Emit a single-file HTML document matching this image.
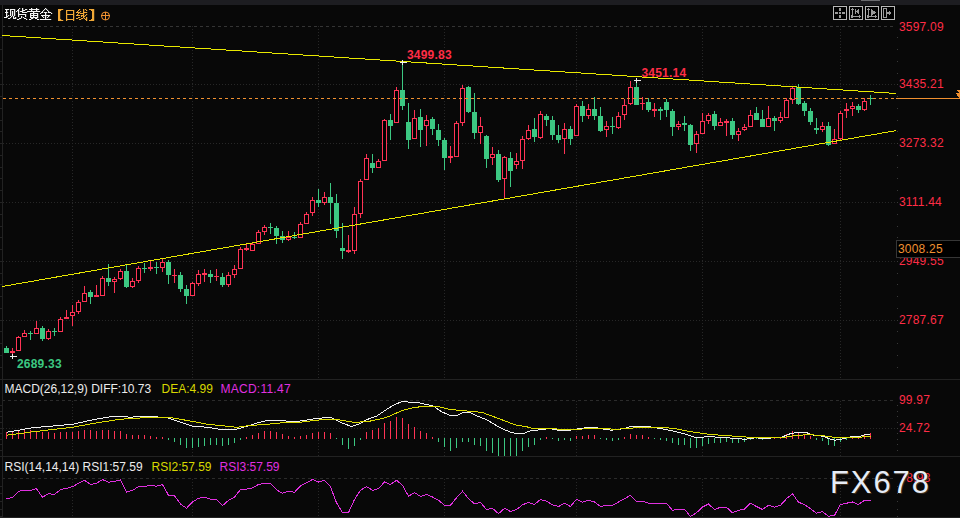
<!DOCTYPE html>
<html><head><meta charset="utf-8"><title>chart</title>
<style>
html,body{margin:0;padding:0;background:#080808;}
body{width:960px;height:518px;position:relative;overflow:hidden;font-family:"Liberation Sans",sans-serif;}
.t{position:absolute;white-space:nowrap;line-height:normal;font-family:"Liberation Sans",sans-serif;}
</style></head><body>
<svg width="960" height="518" viewBox="0 0 960 518" shape-rendering="crispEdges" style="position:absolute;left:0;top:0">
<path d="M2 5h1v513h-1zM0 379h960v1h-960zM0 456h960v1h-960zM0 517h960v1h-960z" fill="#222222"/>
<line x1="3" y1="26.5" x2="893" y2="26.5" stroke="#343434" stroke-dasharray="3 3" stroke-dashoffset="1"/>
<line x1="3" y1="400.5" x2="893" y2="400.5" stroke="#2b2b2b" stroke-dasharray="3 3" stroke-dashoffset="1"/>
<line x1="3" y1="478.5" x2="893" y2="478.5" stroke="#2b2b2b" stroke-dasharray="3 3" stroke-dashoffset="1"/>
<line x1="3" y1="84.5" x2="897" y2="84.5" stroke="#272727" stroke-dasharray="1 2"/>
<line x1="3" y1="143.5" x2="897" y2="143.5" stroke="#272727" stroke-dasharray="1 2"/>
<line x1="3" y1="202.5" x2="897" y2="202.5" stroke="#272727" stroke-dasharray="1 2"/>
<line x1="3" y1="261.5" x2="897" y2="261.5" stroke="#272727" stroke-dasharray="1 2"/>
<line x1="3" y1="320.5" x2="897" y2="320.5" stroke="#272727" stroke-dasharray="1 2"/>
<line x1="3" y1="428.5" x2="897" y2="428.5" stroke="#272727" stroke-dasharray="1 2"/>
<line x1="72.5" y1="26" x2="72.5" y2="379" stroke="#272727" stroke-dasharray="1 2"/>
<line x1="72.5" y1="401" x2="72.5" y2="456" stroke="#272727" stroke-dasharray="1 2"/>
<line x1="72.5" y1="479" x2="72.5" y2="517" stroke="#272727" stroke-dasharray="1 2"/>
<line x1="192.5" y1="26" x2="192.5" y2="379" stroke="#272727" stroke-dasharray="1 2"/>
<line x1="192.5" y1="401" x2="192.5" y2="456" stroke="#272727" stroke-dasharray="1 2"/>
<line x1="192.5" y1="479" x2="192.5" y2="517" stroke="#272727" stroke-dasharray="1 2"/>
<line x1="318.5" y1="26" x2="318.5" y2="379" stroke="#272727" stroke-dasharray="1 2"/>
<line x1="318.5" y1="401" x2="318.5" y2="456" stroke="#272727" stroke-dasharray="1 2"/>
<line x1="318.5" y1="479" x2="318.5" y2="517" stroke="#272727" stroke-dasharray="1 2"/>
<line x1="444.5" y1="26" x2="444.5" y2="379" stroke="#272727" stroke-dasharray="1 2"/>
<line x1="444.5" y1="401" x2="444.5" y2="456" stroke="#272727" stroke-dasharray="1 2"/>
<line x1="444.5" y1="479" x2="444.5" y2="517" stroke="#272727" stroke-dasharray="1 2"/>
<line x1="576.5" y1="26" x2="576.5" y2="379" stroke="#272727" stroke-dasharray="1 2"/>
<line x1="576.5" y1="401" x2="576.5" y2="456" stroke="#272727" stroke-dasharray="1 2"/>
<line x1="576.5" y1="479" x2="576.5" y2="517" stroke="#272727" stroke-dasharray="1 2"/>
<line x1="702.5" y1="26" x2="702.5" y2="379" stroke="#272727" stroke-dasharray="1 2"/>
<line x1="702.5" y1="401" x2="702.5" y2="456" stroke="#272727" stroke-dasharray="1 2"/>
<line x1="702.5" y1="479" x2="702.5" y2="517" stroke="#272727" stroke-dasharray="1 2"/>
<line x1="840.5" y1="26" x2="840.5" y2="379" stroke="#272727" stroke-dasharray="1 2"/>
<line x1="840.5" y1="401" x2="840.5" y2="456" stroke="#272727" stroke-dasharray="1 2"/>
<line x1="840.5" y1="479" x2="840.5" y2="517" stroke="#272727" stroke-dasharray="1 2"/>
<path d="M0 37h2v1h-2zM0 49h2v1h-2zM0 61h2v1h-2zM0 73h2v1h-2zM0 84h2v1h-2zM0 96h2v1h-2zM0 108h2v1h-2zM0 120h2v1h-2zM0 131h2v1h-2zM0 143h2v1h-2zM0 155h2v1h-2zM0 167h2v1h-2zM0 178h2v1h-2zM0 190h2v1h-2zM0 202h2v1h-2zM0 214h2v1h-2zM0 226h2v1h-2zM0 237h2v1h-2zM0 249h2v1h-2zM0 261h2v1h-2zM0 273h2v1h-2zM0 284h2v1h-2zM0 296h2v1h-2zM0 308h2v1h-2zM0 320h2v1h-2zM0 331h2v1h-2zM0 343h2v1h-2zM0 355h2v1h-2zM0 367h2v1h-2zM0 405h2v1h-2zM0 411h2v1h-2zM0 416h2v1h-2zM0 422h2v1h-2zM0 428h2v1h-2zM0 433h2v1h-2zM0 439h2v1h-2zM0 444h2v1h-2zM0 450h2v1h-2zM0 486h2v1h-2zM0 493h2v1h-2zM0 501h2v1h-2zM0 509h2v1h-2zM0 516h2v1h-2z" fill="#222"/>
<path d="M897 37h1v1h-1zM897 49h1v1h-1zM897 61h1v1h-1zM897 73h1v1h-1zM897 84h1v1h-1zM897 96h1v1h-1zM897 108h1v1h-1zM897 120h1v1h-1zM897 131h1v1h-1zM897 143h1v1h-1zM897 155h1v1h-1zM897 167h1v1h-1zM897 178h1v1h-1zM897 190h1v1h-1zM897 202h1v1h-1zM897 214h1v1h-1zM897 226h1v1h-1zM897 237h1v1h-1zM897 249h1v1h-1zM897 261h1v1h-1zM897 273h1v1h-1zM897 284h1v1h-1zM897 296h1v1h-1zM897 308h1v1h-1zM897 320h1v1h-1zM897 331h1v1h-1zM897 343h1v1h-1zM897 355h1v1h-1zM897 367h1v1h-1zM897 405h1v1h-1zM897 411h1v1h-1zM897 416h1v1h-1zM897 422h1v1h-1zM897 428h1v1h-1zM897 433h1v1h-1zM897 439h1v1h-1zM897 444h1v1h-1zM897 450h1v1h-1zM897 486h1v1h-1zM897 493h1v1h-1zM897 501h1v1h-1zM897 509h1v1h-1zM897 516h1v1h-1z" fill="#383838"/>
<path d="M10 351h5v2h-5zM12 348h1v3h-1zM12 353h1v1h-1zM16 337h5v14h-5zM18 336h1v1h-1zM22 333h5v4h-5zM24 330h1v3h-1zM34 328h5v6h-5zM36 321h1v7h-1zM46 331h5v8h-5zM48 329h1v2h-1zM48 339h1v1h-1zM58 319h5v13h-5zM60 317h1v2h-1zM64 317h5v2h-5zM66 310h1v7h-1zM70 312h5v4h-5zM72 305h1v7h-1zM72 316h1v10h-1zM76 302h5v10h-5zM78 300h1v2h-1zM78 312h1v2h-1zM82 293h5v9h-5zM84 286h1v7h-1zM94 295h5v2h-5zM96 285h1v10h-1zM100 278h5v18h-5zM102 276h1v2h-1zM112 279h5v3h-5zM114 277h1v2h-1zM114 282h1v11h-1zM118 271h5v8h-5zM120 269h1v2h-1zM120 279h1v1h-1zM130 281h5v6h-5zM132 278h1v3h-1zM132 287h1v1h-1zM136 268h5v13h-5zM138 266h1v2h-1zM138 281h1v2h-1zM148 267h5v2h-5zM150 261h1v6h-1zM150 269h1v2h-1zM160 262h5v6h-5zM162 259h1v3h-1zM162 268h1v4h-1zM172 275h5v1h-5zM174 269h1v6h-1zM174 276h1v7h-1zM190 283h5v13h-5zM192 282h1v1h-1zM196 274h5v10h-5zM198 270h1v4h-1zM198 284h1v2h-1zM202 273h5v2h-5zM204 269h1v4h-1zM204 275h1v7h-1zM214 276h5v1h-5zM216 269h1v7h-1zM216 277h1v4h-1zM226 275h5v10h-5zM228 272h1v3h-1zM228 285h1v2h-1zM232 269h5v6h-5zM234 265h1v4h-1zM234 275h1v3h-1zM238 249h5v20h-5zM240 247h1v2h-1zM244 248h5v2h-5zM246 243h1v5h-1zM246 250h1v1h-1zM250 244h5v7h-5zM252 243h1v1h-1zM256 232h5v12h-5zM258 230h1v2h-1zM262 227h5v5h-5zM264 225h1v2h-1zM264 232h1v3h-1zM286 237h5v3h-5zM288 231h1v6h-1zM288 240h1v1h-1zM298 224h5v14h-5zM300 222h1v2h-1zM304 214h5v10h-5zM306 212h1v2h-1zM310 200h5v13h-5zM312 197h1v3h-1zM312 213h1v3h-1zM322 197h5v6h-5zM324 192h1v5h-1zM324 203h1v2h-1zM346 250h5v2h-5zM348 235h1v15h-1zM348 252h1v1h-1zM352 214h5v37h-5zM354 207h1v7h-1zM354 251h1v3h-1zM358 181h5v33h-5zM360 179h1v2h-1zM360 214h1v4h-1zM364 158h5v22h-5zM366 154h1v4h-1zM376 161h5v7h-5zM378 159h1v2h-1zM382 120h5v41h-5zM384 119h1v1h-1zM394 90h5v33h-5zM396 87h1v3h-1zM412 118h5v21h-5zM414 110h1v8h-1zM424 120h5v6h-5zM426 115h1v5h-1zM426 126h1v20h-1zM448 156h5v2h-5zM450 146h1v10h-1zM450 158h1v5h-1zM454 123h5v34h-5zM456 121h1v2h-1zM460 88h5v35h-5zM462 85h1v3h-1zM462 123h1v3h-1zM478 126h5v7h-5zM480 117h1v9h-1zM480 133h1v11h-1zM490 154h5v4h-5zM492 147h1v7h-1zM492 158h1v7h-1zM502 157h5v22h-5zM504 156h1v1h-1zM504 179h1v20h-1zM514 161h5v4h-5zM516 153h1v8h-1zM516 165h1v4h-1zM520 139h5v22h-5zM522 136h1v3h-1zM522 161h1v8h-1zM526 130h5v9h-5zM528 125h1v5h-1zM528 139h1v1h-1zM538 114h5v24h-5zM540 111h1v3h-1zM540 138h1v1h-1zM562 129h5v10h-5zM564 123h1v6h-1zM564 139h1v15h-1zM574 106h5v30h-5zM576 104h1v2h-1zM586 109h5v7h-5zM588 104h1v5h-1zM588 116h1v3h-1zM604 126h5v4h-5zM606 121h1v5h-1zM606 130h1v7h-1zM616 116h5v12h-5zM618 112h1v4h-1zM618 128h1v1h-1zM622 105h5v10h-5zM624 99h1v6h-1zM624 115h1v5h-1zM628 87h5v17h-5zM630 81h1v6h-1zM630 104h1v1h-1zM640 103h5v1h-5zM642 97h1v6h-1zM642 104h1v6h-1zM652 109h5v2h-5zM654 103h1v6h-1zM654 111h1v6h-1zM676 124h5v3h-5zM678 121h1v3h-1zM678 127h1v3h-1zM694 134h5v10h-5zM696 131h1v3h-1zM696 144h1v9h-1zM700 121h5v13h-5zM702 113h1v8h-1zM706 115h5v6h-5zM708 113h1v2h-1zM708 121h1v3h-1zM718 122h5v4h-5zM720 118h1v4h-1zM724 121h5v2h-5zM726 119h1v2h-1zM726 123h1v13h-1zM736 131h5v4h-5zM738 128h1v3h-1zM738 135h1v6h-1zM742 127h5v3h-5zM744 124h1v3h-1zM744 130h1v1h-1zM748 115h5v12h-5zM750 110h1v5h-1zM766 118h5v9h-5zM768 106h1v12h-1zM778 117h5v4h-5zM780 112h1v5h-1zM780 121h1v2h-1zM784 100h5v18h-5zM786 98h1v2h-1zM790 88h5v12h-5zM792 87h1v1h-1zM792 100h1v4h-1zM820 126h5v4h-5zM822 122h1v4h-1zM822 130h1v2h-1zM832 139h5v5h-5zM834 129h1v10h-1zM838 113h5v26h-5zM840 111h1v2h-1zM840 139h1v1h-1zM844 109h5v2h-5zM846 103h1v6h-1zM846 111h1v7h-1zM850 106h5v3h-5zM852 102h1v4h-1zM852 109h1v7h-1zM862 101h5v9h-5zM864 98h1v3h-1zM864 110h1v1h-1z" fill="#ff3355"/>
<path d="M17 338h3v12h-3zM23 334h3v2h-3zM35 329h3v4h-3zM47 332h3v6h-3zM59 320h3v11h-3zM71 313h3v2h-3zM77 303h3v8h-3zM83 294h3v7h-3zM101 279h3v16h-3zM113 280h3v1h-3zM119 272h3v6h-3zM131 282h3v4h-3zM137 269h3v11h-3zM161 263h3v4h-3zM191 284h3v11h-3zM197 275h3v8h-3zM227 276h3v8h-3zM233 270h3v4h-3zM239 250h3v18h-3zM251 245h3v5h-3zM257 233h3v10h-3zM263 228h3v3h-3zM287 238h3v1h-3zM299 225h3v12h-3zM305 215h3v8h-3zM311 201h3v11h-3zM323 198h3v4h-3zM353 215h3v35h-3zM359 182h3v31h-3zM365 159h3v20h-3zM377 162h3v5h-3zM383 121h3v39h-3zM395 91h3v31h-3zM413 119h3v19h-3zM425 121h3v4h-3zM455 124h3v32h-3zM461 89h3v33h-3zM479 127h3v5h-3zM491 155h3v2h-3zM503 158h3v20h-3zM515 162h3v2h-3zM521 140h3v20h-3zM527 131h3v7h-3zM539 115h3v22h-3zM563 130h3v8h-3zM575 107h3v28h-3zM587 110h3v5h-3zM605 127h3v2h-3zM617 117h3v10h-3zM623 106h3v8h-3zM629 88h3v15h-3zM677 125h3v1h-3zM695 135h3v8h-3zM701 122h3v11h-3zM707 116h3v4h-3zM719 123h3v2h-3zM737 132h3v2h-3zM743 128h3v1h-3zM749 116h3v10h-3zM767 119h3v7h-3zM779 118h3v2h-3zM785 101h3v16h-3zM791 89h3v10h-3zM821 127h3v2h-3zM833 140h3v3h-3zM839 114h3v24h-3zM851 107h3v1h-3zM863 102h3v7h-3z" fill="#000"/>
<path d="M4 348h5v5h-5zM6 346h1v7h-1zM28 333h5v1h-5zM30 331h1v9h-1zM40 328h5v11h-5zM42 326h1v15h-1zM52 331h5v1h-5zM54 328h1v8h-1zM88 292h5v5h-5zM90 290h1v14h-1zM106 278h5v4h-5zM108 264h1v22h-1zM124 271h5v16h-5zM126 265h1v23h-1zM142 268h5v1h-5zM144 263h1v10h-1zM154 267h5v1h-5zM156 262h1v12h-1zM166 262h5v13h-5zM168 260h1v24h-1zM178 275h5v14h-5zM180 272h1v20h-1zM184 289h5v7h-5zM186 285h1v19h-1zM208 274h5v3h-5zM210 270h1v13h-1zM220 277h5v8h-5zM222 273h1v14h-1zM268 227h5v1h-5zM270 223h1v11h-1zM274 228h5v8h-5zM276 226h1v18h-1zM280 236h5v4h-5zM282 231h1v12h-1zM292 237h5v1h-5zM294 232h1v7h-1zM316 200h5v3h-5zM318 189h1v18h-1zM328 197h5v6h-5zM330 183h1v41h-1zM334 203h5v28h-5zM336 194h1v44h-1zM340 248h5v3h-5zM342 223h1v36h-1zM370 163h5v5h-5zM372 154h1v19h-1zM388 120h5v6h-5zM390 114h1v26h-1zM400 90h5v16h-5zM402 62h1v48h-1zM406 122h5v18h-5zM408 103h1v46h-1zM418 117h5v13h-5zM420 109h1v38h-1zM430 119h5v10h-5zM432 117h1v18h-1zM436 130h5v10h-5zM438 124h1v22h-1zM442 140h5v18h-5zM444 138h1v32h-1zM466 87h5v25h-5zM468 86h1v27h-1zM472 112h5v21h-5zM474 93h1v46h-1zM484 136h5v23h-5zM486 135h1v33h-1zM496 154h5v26h-5zM498 150h1v32h-1zM508 158h5v13h-5zM510 152h1v35h-1zM532 129h5v8h-5zM534 118h1v24h-1zM544 116h5v4h-5zM546 114h1v12h-1zM550 120h5v15h-5zM552 116h1v24h-1zM556 135h5v5h-5zM558 125h1v18h-1zM568 129h5v10h-5zM570 126h1v19h-1zM580 106h5v10h-5zM582 101h1v21h-1zM592 109h5v7h-5zM594 97h1v23h-1zM598 116h5v15h-5zM600 107h1v25h-1zM610 126h5v1h-5zM612 117h1v17h-1zM634 87h5v18h-5zM636 80h1v25h-1zM646 102h5v8h-5zM648 98h1v14h-1zM658 109h5v2h-5zM660 107h1v13h-1zM664 102h5v8h-5zM666 99h1v18h-1zM670 111h5v16h-5zM672 109h1v27h-1zM682 123h5v2h-5zM684 116h1v15h-1zM688 125h5v20h-5zM690 124h1v27h-1zM712 114h5v12h-5zM714 111h1v19h-1zM730 121h5v14h-5zM732 118h1v21h-1zM754 113h5v7h-5zM756 107h1v13h-1zM760 119h5v8h-5zM762 110h1v17h-1zM772 118h5v3h-5zM774 116h1v15h-1zM796 87h5v17h-5zM798 84h1v21h-1zM802 103h5v8h-5zM804 101h1v15h-1zM808 111h5v11h-5zM810 108h1v17h-1zM814 128h5v2h-5zM816 118h1v16h-1zM826 126h5v19h-5zM828 122h1v24h-1zM856 106h5v4h-5zM858 104h1v9h-1zM868 98h5v1h-5zM870 95h1v10h-1z" fill="#3cc882"/>
<polyline points="2,35.48 896.25,93.47" fill="none" stroke="#e8e800"/>
<polyline points="2,286.52 896.25,130.6" fill="none" stroke="#e8e800"/>
<line x1="3" y1="98.5" x2="896" y2="98.5" stroke="#f09030" stroke-dasharray="3 3"/>
<path d="M896 98h64v1h-64z" fill="#f09030"/>
<path d="M960 90h-4l3 3h-3l3 5h1z" fill="#f09030"/>
<path d="M10 356h7v1h-7zM12 354h1v5h-1z" fill="#f0f0f0"/>
<path d="M400 62h7v1h-7zM402 60h1v5h-1z" fill="#f0f0f0"/>
<path d="M634 80h7v1h-7zM636 78h1v5h-1z" fill="#f0f0f0"/>
<path d="M6 432h1v7h-1zM12 432h1v7h-1zM18 431h1v8h-1zM24 430h1v9h-1zM30 430h1v9h-1zM36 431h1v8h-1zM42 432h1v7h-1zM48 432h1v7h-1zM54 433h1v6h-1zM60 432h1v7h-1zM66 432h1v7h-1zM72 432h1v7h-1zM78 431h1v8h-1zM84 430h1v9h-1zM90 430h1v9h-1zM96 431h1v8h-1zM102 430h1v9h-1zM108 430h1v9h-1zM114 431h1v8h-1zM120 431h1v8h-1zM126 434h1v5h-1zM132 435h1v4h-1zM138 435h1v4h-1zM144 435h1v4h-1zM150 436h1v3h-1zM156 437h1v2h-1zM162 437h1v2h-1zM246 437h1v2h-1zM252 435h1v4h-1zM258 433h1v6h-1zM264 431h1v8h-1zM270 431h1v8h-1zM276 432h1v7h-1zM282 434h1v5h-1zM288 436h1v3h-1zM294 437h1v2h-1zM300 436h1v3h-1zM306 435h1v4h-1zM312 433h1v6h-1zM318 432h1v7h-1zM324 432h1v7h-1zM330 433h1v6h-1zM366 432h1v7h-1zM372 430h1v9h-1zM378 428h1v11h-1zM384 423h1v16h-1zM390 421h1v18h-1zM396 417h1v22h-1zM402 418h1v21h-1zM408 424h1v15h-1zM414 427h1v12h-1zM420 431h1v8h-1zM426 433h1v6h-1zM432 437h1v2h-1zM546 437h1v2h-1zM576 436h1v3h-1zM582 436h1v3h-1zM588 435h1v4h-1zM594 435h1v4h-1zM624 437h1v2h-1zM630 434h1v5h-1zM636 435h1v4h-1zM642 435h1v4h-1zM648 437h1v2h-1zM774 438h1v1h-1zM780 437h1v2h-1zM786 434h1v5h-1zM792 431h1v8h-1zM798 432h1v7h-1zM804 434h1v5h-1zM810 436h1v3h-1zM852 437h1v2h-1zM858 436h1v3h-1zM864 434h1v5h-1zM870 433h1v6h-1z" fill="#ff3355"/>
<path d="M168 438h1v2h-1zM174 438h1v4h-1zM180 438h1v7h-1zM186 438h1v10h-1zM192 438h1v10h-1zM198 438h1v9h-1zM204 438h1v8h-1zM210 438h1v7h-1zM216 438h1v7h-1zM222 438h1v8h-1zM228 438h1v7h-1zM234 438h1v5h-1zM240 438h1v2h-1zM336 438h1v1h-1zM342 438h1v7h-1zM348 438h1v11h-1zM354 438h1v8h-1zM360 438h1v2h-1zM438 438h1v4h-1zM444 438h1v9h-1zM450 438h1v13h-1zM456 438h1v10h-1zM462 438h1v4h-1zM468 438h1v4h-1zM474 438h1v7h-1zM480 438h1v8h-1zM486 438h1v13h-1zM492 438h1v15h-1zM498 438h1v18h-1zM504 438h1v18h-1zM510 438h1v18h-1zM516 438h1v18h-1zM522 438h1v13h-1zM528 438h1v9h-1zM534 438h1v7h-1zM540 438h1v2h-1zM552 438h1v1h-1zM558 438h1v3h-1zM564 438h1v2h-1zM570 438h1v3h-1zM600 438h1v1h-1zM606 438h1v2h-1zM612 438h1v3h-1zM618 438h1v2h-1zM654 438h1v1h-1zM660 438h1v2h-1zM666 438h1v3h-1zM672 438h1v5h-1zM678 438h1v7h-1zM684 438h1v7h-1zM690 438h1v10h-1zM696 438h1v10h-1zM702 438h1v8h-1zM708 438h1v6h-1zM714 438h1v5h-1zM720 438h1v5h-1zM726 438h1v4h-1zM732 438h1v5h-1zM738 438h1v5h-1zM744 438h1v4h-1zM750 438h1v2h-1zM756 438h1v1h-1zM762 438h1v2h-1zM768 438h1v1h-1zM816 438h1v2h-1zM822 438h1v3h-1zM828 438h1v7h-1zM834 438h1v8h-1zM840 438h1v4h-1zM846 438h1v2h-1z" fill="#3cc882"/>
<polyline points="6.5,432.3 33.0,427.7 72.5,424.3 93.0,419.7 113.0,416.3 123.0,416.3 130.0,417.3 141.7,416.3 153.0,416.3 160.0,417.2 166.7,417.7 175.0,420.2 191.7,426.0 208.0,427.3 221.7,429.7 235.0,429.7 246.7,426.3 258.3,422.7 268.3,420.2 280.0,420.5 291.7,421.5 300.0,421.0 316.7,418.5 330.0,417.3 335.8,419.7 343.3,423.5 351.7,426.5 358.3,424.3 366.7,419.7 376.7,416.0 385.0,410.5 393.3,405.2 402.5,401.3 410.0,402.2 420.0,403.0 433.3,406.0 441.7,411.8 450.0,415.3 456.7,415.5 463.3,412.2 470.0,412.2 475.0,415.2 486.7,419.7 500.0,427.7 511.7,432.7 516.7,433.5 523.3,433.5 530.0,431.0 540.0,429.7 550.0,428.5 558.3,430.2 570.0,430.2 576.7,429.0 586.7,427.7 596.7,427.7 605.0,429.3 611.7,430.2 625.0,428.5 631.7,426.0 645.0,426.0 658.3,428.2 671.7,430.7 683.3,433.5 695.0,437.2 703.3,437.2 708.3,436.0 716.7,437.3 733.3,438.2 745.0,439.3 750.0,438.5 756.7,437.7 763.3,438.8 773.3,437.7 781.7,437.3 788.3,434.3 796.7,432.3 806.7,432.7 813.3,435.2 823.3,436.3 830.0,439.0 835.0,440.2 841.7,439.0 851.7,436.5 860.0,436.3 865.0,434.7 870.5,434.0" fill="none" stroke="#f0f0f0"/>
<polyline points="6.5,435.2 33.0,431.8 72.5,427.2 93.0,423.5 116.7,419.7 130.0,418.5 146.7,417.7 160.0,417.2 171.7,417.7 191.7,421.3 208.0,424.3 225.0,426.0 236.7,427.3 250.0,425.5 266.7,424.3 280.0,423.0 291.7,422.3 300.0,422.3 316.7,420.2 333.3,419.0 353.3,422.2 366.7,421.8 376.7,419.7 386.7,417.3 401.7,410.7 415.0,407.3 426.7,406.3 436.7,406.3 450.0,409.5 466.7,411.0 481.7,412.3 500.0,419.0 515.0,424.8 526.7,426.8 533.3,428.5 550.0,428.8 566.7,429.3 583.3,429.0 600.0,428.5 616.7,429.3 633.3,428.0 650.0,427.3 663.3,427.3 676.7,429.0 691.7,431.8 706.7,434.0 723.3,435.5 736.7,436.3 750.0,437.3 760.0,437.3 781.7,437.7 790.0,436.3 798.3,435.2 810.0,434.7 823.3,435.7 833.3,437.2 848.3,437.7 860.0,437.2 870.5,436.3" fill="none" stroke="#dcdc00"/>
<polyline points="6.5,498.7 12.5,497.5 18.5,491.2 24.5,490.3 30.5,490.3 36.5,488.7 42.5,497.3 48.5,493.7 54.5,494.5 60.5,489.5 66.5,488.3 72.5,486.7 78.5,483.3 84.5,480.3 90.5,484.5 96.5,483.3 102.5,479.5 108.5,482.3 114.5,481.3 120.5,479.8 126.5,492.3 132.5,490.3 138.5,486.7 144.5,486.5 150.5,485.3 156.5,486.2 162.5,484.5 168.5,495.3 174.5,495.7 180.5,504.0 186.5,508.3 192.5,502.0 198.5,498.3 204.5,497.3 210.5,499.2 216.5,499.2 222.5,505.7 228.5,500.3 234.5,497.0 240.5,489.5 246.5,489.2 252.5,487.8 258.5,484.5 264.5,483.3 270.5,483.3 276.5,489.8 282.5,493.3 288.5,491.2 294.5,492.3 300.5,485.8 306.5,482.8 312.5,479.5 318.5,482.0 324.5,480.3 330.5,486.7 336.5,502.8 342.5,512.5 348.5,512.5 354.5,499.5 360.5,490.3 366.5,486.5 372.5,490.3 378.5,488.7 384.5,482.0 390.5,484.5 396.5,480.3 402.5,485.3 408.5,496.2 414.5,492.5 420.5,496.5 426.5,494.5 432.5,497.0 438.5,500.3 444.5,505.3 450.5,505.3 456.5,497.8 462.5,491.2 468.5,498.7 474.5,503.7 480.5,502.5 486.5,509.5 492.5,508.3 498.5,513.7 504.5,508.3 510.5,511.5 516.5,509.5 522.5,504.8 528.5,502.5 534.5,504.5 540.5,499.5 546.5,501.2 552.5,504.8 558.5,506.5 564.5,503.3 570.5,506.5 576.5,499.2 582.5,502.3 588.5,500.3 594.5,502.0 600.5,506.5 606.5,505.3 612.5,505.3 618.5,502.0 624.5,498.7 630.5,495.3 636.5,501.2 642.5,501.2 648.5,503.3 654.5,503.3 660.5,503.3 666.5,503.3 672.5,510.3 678.5,509.2 684.5,509.2 690.5,516.5 696.5,512.8 702.5,507.0 708.5,504.0 714.5,509.5 720.5,507.3 726.5,507.3 732.5,512.8 738.5,510.3 744.5,509.2 750.5,503.2 756.5,506.5 762.5,509.5 768.5,505.3 774.5,507.3 780.5,505.3 786.5,498.7 792.5,493.7 798.5,502.3 804.5,504.5 810.5,508.7 816.5,513.2 822.5,511.7 828.5,516.2 834.5,515.3 840.5,504.5 846.5,503.2 852.5,502.0 858.5,504.5 864.5,500.3 870.5,500.3" fill="none" stroke="#e030e0"/>
<rect x="833.5" y="6.5" width="13" height="13" fill="#000" stroke="#b8b8b8"/>
<rect x="849.5" y="6.5" width="13" height="13" fill="#000" stroke="#b8b8b8"/>
<rect x="865.5" y="6.5" width="13" height="13" fill="#000" stroke="#b8b8b8"/>
<rect x="881.5" y="6.5" width="13" height="13" fill="#000" stroke="#b8b8b8"/>
<path d="M839 8h2v3h-2zM839 15h2v3h-2zM835 12h3v2h-3zM842 12h3v2h-3zM839 12h2v2h-2z" fill="#9a9a9a"/>
<path d="M852 8h1v10h-1zM851 16h10v1h-10zM851 9h3v1h-3zM859 15h1v3h-1zM851 15h1v3h-1zM855 9h1v5h-1zM859 9v5l-3-2.5z" fill="#9a9a9a"/>
<path d="M868 8h1v10h-1zM867 16h10v1h-10zM867 9h3v1h-3zM875 15h1v3h-1zM867 15h1v3h-1zM871 9v7l5-3.5z" fill="#9a9a9a"/>
<path d="M883.5 8.5h3v9h-3z" fill="none" stroke="#9a9a9a"/><path d="M886 12h5v2h-5zM889 10.5l3 2.5l-3 2.5z" fill="#9a9a9a"/>
<g shape-rendering="auto"><circle cx="105.5" cy="16" r="4" fill="none" stroke="#f09030"/></g><path d="M101 15h9v1h-9zM105 12h1v8h-1z" fill="#f09030"/>
<g shape-rendering="auto"><path d="M5 9h4v1h-4zM10 9h5v1h-5zM6 10h1v1h-1zM10 10h1v1h-1zM14 10h1v1h-1zM6 11h1v1h-1zM10 11h1v1h-1zM12 11h1v1h-1zM14 11h1v1h-1zM5 12h3v1h-3zM10 12h1v1h-1zM12 12h1v1h-1zM14 12h1v1h-1zM6 13h1v1h-1zM10 13h1v1h-1zM12 13h1v1h-1zM14 13h1v1h-1zM6 14h1v1h-1zM10 14h1v1h-1zM12 14h1v1h-1zM14 14h1v1h-1zM6 15h1v1h-1zM8 15h1v1h-1zM10 15h1v1h-1zM12 15h1v1h-1zM14 15h1v1h-1zM6 16h2v1h-2zM11 16h1v1h-1zM13 16h1v1h-1zM4 17h3v1h-3zM10 17h1v1h-1zM13 17h1v1h-1zM15 17h1v1h-1zM8 18h2v1h-2zM13 18h3v1h-3zM19 8h1v1h-1zM22 8h1v1h-1zM18 9h1v1h-1zM22 9h1v1h-1zM25 9h2v1h-2zM17 10h2v1h-2zM22 10h3v1h-3zM16 11h1v1h-1zM18 11h1v1h-1zM20 11h3v1h-3zM27 11h1v1h-1zM18 12h1v1h-1zM22 12h5v1h-5zM18 13h1v1h-1zM18 14h8v1h-8zM18 15h1v1h-1zM25 15h1v1h-1zM18 16h1v1h-1zM21 16h1v1h-1zM25 16h1v1h-1zM21 17h1v1h-1zM23 17h1v1h-1zM19 18h2v1h-2zM24 18h2v1h-2zM17 19h2v1h-2zM26 19h1v1h-1zM31 8h1v1h-1zM36 8h1v1h-1zM29 9h10v1h-10zM31 10h1v1h-1zM36 10h1v1h-1zM28 11h12v1h-12zM33 12h1v1h-1zM30 13h8v1h-8zM30 14h1v1h-1zM33 14h1v1h-1zM37 14h1v1h-1zM30 15h8v1h-8zM30 16h1v1h-1zM33 16h1v1h-1zM37 16h1v1h-1zM30 17h8v1h-8zM31 18h2v1h-2zM35 18h2v1h-2zM29 19h2v1h-2zM37 19h2v1h-2zM45 8h1v1h-1zM44 9h1v1h-1zM46 9h1v1h-1zM43 10h1v1h-1zM47 10h1v1h-1zM42 11h1v1h-1zM48 11h1v1h-1zM41 12h2v1h-2zM44 12h3v1h-3zM48 12h3v1h-3zM40 13h1v1h-1zM45 13h1v1h-1zM51 13h1v1h-1zM45 14h1v1h-1zM41 15h9v1h-9zM42 16h1v1h-1zM45 16h1v1h-1zM48 16h1v1h-1zM43 17h1v1h-1zM45 17h1v1h-1zM47 17h1v1h-1zM45 18h1v1h-1zM40 19h11v1h-11z" fill="#f4f4f4"/><path d="M5 9h4v1h-4zM10 9h5v1h-5zM6 10h1v1h-1zM10 10h1v1h-1zM14 10h1v1h-1zM6 11h1v1h-1zM10 11h1v1h-1zM12 11h1v1h-1zM14 11h1v1h-1zM5 12h3v1h-3zM10 12h1v1h-1zM12 12h1v1h-1zM14 12h1v1h-1zM6 13h1v1h-1zM10 13h1v1h-1zM12 13h1v1h-1zM14 13h1v1h-1zM6 14h1v1h-1zM10 14h1v1h-1zM12 14h1v1h-1zM14 14h1v1h-1zM6 15h1v1h-1zM8 15h1v1h-1zM10 15h1v1h-1zM12 15h1v1h-1zM14 15h1v1h-1zM6 16h2v1h-2zM11 16h1v1h-1zM13 16h1v1h-1zM4 17h3v1h-3zM10 17h1v1h-1zM13 17h1v1h-1zM15 17h1v1h-1zM8 18h2v1h-2zM13 18h3v1h-3zM19 8h1v1h-1zM22 8h1v1h-1zM18 9h1v1h-1zM22 9h1v1h-1zM25 9h2v1h-2zM17 10h2v1h-2zM22 10h3v1h-3zM16 11h1v1h-1zM18 11h1v1h-1zM20 11h3v1h-3zM27 11h1v1h-1zM18 12h1v1h-1zM22 12h5v1h-5zM18 13h1v1h-1zM18 14h8v1h-8zM18 15h1v1h-1zM25 15h1v1h-1zM18 16h1v1h-1zM21 16h1v1h-1zM25 16h1v1h-1zM21 17h1v1h-1zM23 17h1v1h-1zM19 18h2v1h-2zM24 18h2v1h-2zM17 19h2v1h-2zM26 19h1v1h-1zM31 8h1v1h-1zM36 8h1v1h-1zM29 9h10v1h-10zM31 10h1v1h-1zM36 10h1v1h-1zM28 11h12v1h-12zM33 12h1v1h-1zM30 13h8v1h-8zM30 14h1v1h-1zM33 14h1v1h-1zM37 14h1v1h-1zM30 15h8v1h-8zM30 16h1v1h-1zM33 16h1v1h-1zM37 16h1v1h-1zM30 17h8v1h-8zM31 18h2v1h-2zM35 18h2v1h-2zM29 19h2v1h-2zM37 19h2v1h-2zM45 8h1v1h-1zM44 9h1v1h-1zM46 9h1v1h-1zM43 10h1v1h-1zM47 10h1v1h-1zM42 11h1v1h-1zM48 11h1v1h-1zM41 12h2v1h-2zM44 12h3v1h-3zM48 12h3v1h-3zM40 13h1v1h-1zM45 13h1v1h-1zM51 13h1v1h-1zM45 14h1v1h-1zM41 15h9v1h-9zM42 16h1v1h-1zM45 16h1v1h-1zM48 16h1v1h-1zM43 17h1v1h-1zM45 17h1v1h-1zM47 17h1v1h-1zM45 18h1v1h-1zM40 19h11v1h-11z" fill="#f4f4f4" transform="translate(0.5,0)" opacity="0.45"/></g>
<g shape-rendering="auto"><path d="M58 9h5v1h-5zM58 10h3v1h-3zM58 11h2v1h-2zM58 12h2v1h-2zM58 13h2v1h-2zM58 14h2v1h-2zM58 15h2v1h-2zM58 16h2v1h-2zM58 17h2v1h-2zM58 18h2v1h-2zM58 19h3v1h-3zM58 20h5v1h-5zM66 10h8v1h-8zM66 11h1v1h-1zM73 11h1v1h-1zM66 12h1v1h-1zM73 12h1v1h-1zM66 13h1v1h-1zM73 13h1v1h-1zM66 14h8v1h-8zM66 15h1v1h-1zM73 15h1v1h-1zM66 16h1v1h-1zM73 16h1v1h-1zM66 17h1v1h-1zM73 17h1v1h-1zM66 18h1v1h-1zM73 18h1v1h-1zM66 19h8v1h-8zM66 20h1v1h-1zM73 20h1v1h-1zM79 9h1v1h-1zM83 9h1v1h-1zM85 9h1v1h-1zM78 10h1v1h-1zM83 10h1v1h-1zM86 10h1v1h-1zM77 11h1v1h-1zM80 11h1v1h-1zM83 11h1v1h-1zM76 12h4v1h-4zM83 12h4v1h-4zM78 13h1v1h-1zM80 13h4v1h-4zM77 14h1v1h-1zM83 14h1v1h-1zM86 14h1v1h-1zM76 15h4v1h-4zM81 15h3v1h-3zM85 15h1v1h-1zM81 16h1v1h-1zM83 16h2v1h-2zM78 17h2v1h-2zM83 17h1v1h-1zM86 17h1v1h-1zM76 18h2v1h-2zM81 18h2v1h-2zM84 18h1v1h-1zM86 18h1v1h-1zM79 19h2v1h-2zM85 19h2v1h-2zM86 20h1v1h-1zM89 9h5v1h-5zM91 10h3v1h-3zM92 11h2v1h-2zM92 12h2v1h-2zM92 13h2v1h-2zM92 14h2v1h-2zM92 15h2v1h-2zM92 16h2v1h-2zM92 17h2v1h-2zM92 18h2v1h-2zM91 19h3v1h-3zM89 20h5v1h-5z" fill="#f0a838"/><path d="M58 9h5v1h-5zM58 10h3v1h-3zM58 11h2v1h-2zM58 12h2v1h-2zM58 13h2v1h-2zM58 14h2v1h-2zM58 15h2v1h-2zM58 16h2v1h-2zM58 17h2v1h-2zM58 18h2v1h-2zM58 19h3v1h-3zM58 20h5v1h-5zM66 10h8v1h-8zM66 11h1v1h-1zM73 11h1v1h-1zM66 12h1v1h-1zM73 12h1v1h-1zM66 13h1v1h-1zM73 13h1v1h-1zM66 14h8v1h-8zM66 15h1v1h-1zM73 15h1v1h-1zM66 16h1v1h-1zM73 16h1v1h-1zM66 17h1v1h-1zM73 17h1v1h-1zM66 18h1v1h-1zM73 18h1v1h-1zM66 19h8v1h-8zM66 20h1v1h-1zM73 20h1v1h-1zM79 9h1v1h-1zM83 9h1v1h-1zM85 9h1v1h-1zM78 10h1v1h-1zM83 10h1v1h-1zM86 10h1v1h-1zM77 11h1v1h-1zM80 11h1v1h-1zM83 11h1v1h-1zM76 12h4v1h-4zM83 12h4v1h-4zM78 13h1v1h-1zM80 13h4v1h-4zM77 14h1v1h-1zM83 14h1v1h-1zM86 14h1v1h-1zM76 15h4v1h-4zM81 15h3v1h-3zM85 15h1v1h-1zM81 16h1v1h-1zM83 16h2v1h-2zM78 17h2v1h-2zM83 17h1v1h-1zM86 17h1v1h-1zM76 18h2v1h-2zM81 18h2v1h-2zM84 18h1v1h-1zM86 18h1v1h-1zM79 19h2v1h-2zM85 19h2v1h-2zM86 20h1v1h-1zM89 9h5v1h-5zM91 10h3v1h-3zM92 11h2v1h-2zM92 12h2v1h-2zM92 13h2v1h-2zM92 14h2v1h-2zM92 15h2v1h-2zM92 16h2v1h-2zM92 17h2v1h-2zM92 18h2v1h-2zM91 19h3v1h-3zM89 20h5v1h-5z" fill="#f0a838" transform="translate(0.5,0)" opacity="0.45"/></g>
<path d="M0 0h960v5h-960z" fill="#1d1d21"/><path d="M861 0h19v1h-19z" fill="#6a6a6e"/>
</svg>
<!--TITLE-->
<div class="t" style="left:899px;top:19.51px;color:#ff2d46;font-size:12px;letter-spacing:0.2px;">3597.09</div>
<div class="t" style="left:899px;top:77.01px;color:#ff2d46;font-size:12px;letter-spacing:0.2px;">3435.21</div>
<div class="t" style="left:899px;top:136.01px;color:#ff2d46;font-size:12px;letter-spacing:0.2px;">3273.32</div>
<div class="t" style="left:899px;top:195.11px;color:#ff2d46;font-size:12px;letter-spacing:0.2px;">3111.44</div>
<div class="t" style="left:899px;top:253.91px;color:#ff2d46;font-size:12px;letter-spacing:0.2px;">2949.55</div>
<div class="t" style="left:899px;top:313.01px;color:#ff2d46;font-size:12px;letter-spacing:0.2px;">2787.67</div>
<div class="t" style="left:899px;top:392.51px;color:#ff2d46;font-size:12px;letter-spacing:0.2px;">99.97</div>
<div class="t" style="left:899px;top:420.51px;color:#ff2d46;font-size:12px;letter-spacing:0.2px;">24.72</div>
<div style="position:absolute;left:896px;top:240px;width:70px;height:16px;background:#000;border:1px solid #363636"></div>
<div class="t" style="left:898px;top:242.21px;color:#f09030;font-size:12px;letter-spacing:0.2px;">3008.25</div>
<div class="t" style="left:17px;top:357.01px;color:#3cc882;font-size:12px;letter-spacing:0.2px;font-weight:bold;">2689.33</div>
<div class="t" style="left:407px;top:48.11px;color:#ff2d46;font-size:12px;letter-spacing:0.2px;font-weight:bold;">3499.83</div>
<div class="t" style="left:641.5px;top:65.91px;color:#ff2d46;font-size:12px;letter-spacing:0.2px;font-weight:bold;">3451.14</div>
<div class="t" style="left:4.5px;top:381.91px;color:#ececec;font-size:12px;letter-spacing:0px;">MACD(26,12,9) DIFF:10.73</div>
<div class="t" style="left:161.5px;top:381.91px;color:#d8d800;font-size:12px;letter-spacing:0px;">DEA:4.99</div>
<div class="t" style="left:220.5px;top:381.91px;color:#e030e0;font-size:12px;letter-spacing:0.25px;">MACD:11.47</div>
<div class="t" style="left:4.5px;top:460.41px;color:#ececec;font-size:12px;letter-spacing:0px;">RSI(14,14,14) RSI1:57.59</div>
<div class="t" style="left:151.5px;top:460.41px;color:#d8d800;font-size:12px;letter-spacing:0px;">RSI2:57.59</div>
<div class="t" style="left:219.5px;top:460.41px;color:#e030e0;font-size:12px;letter-spacing:0px;">RSI3:57.59</div>
<div class="t" style="left:899.5px;top:470.91px;color:#ff2d46;font-size:12px;letter-spacing:0.2px;">78.93</div>
<div class="t" style="left:830px;top:464.6px;color:#e6ecf6;font-size:31px;letter-spacing:1.9px;text-shadow:1px 1px 0 #3a2a1a">FX678</div>
</body></html>
